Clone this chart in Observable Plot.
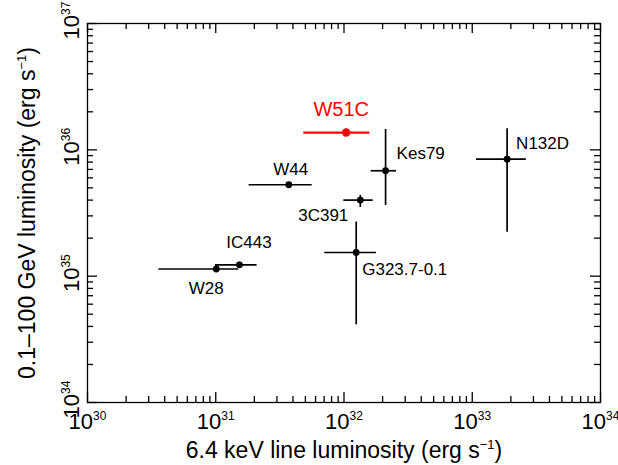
<!DOCTYPE html>
<html>
<head>
<meta charset="utf-8">
<script src="https://cdn.jsdelivr.net/npm/d3@7"></script>
<script src="https://cdn.jsdelivr.net/npm/@observablehq/plot@0.6"></script>
<style>
  html, body { margin: 0; padding: 0; background: white; }
  svg { display: block; }
</style>
</head>
<body>
<div id="chart"></div>
<script>
// ---- data ----
const names = ["W51C", "W44", "Kes79", "3C391", "G323.7-0.1", "IC443", "W28", "N132D"];
const xVal = [1.04e32, 3.71e31, 2.11e32, 1.34e32, 1.245e32, 1.53e31, 1.01e31, 1.87e33];
const xLo  = [4.86e31, 1.82e31, 1.63e32, 9.96e31, 7.08e31, 9.96e30, 3.6e30, 1.08e33];
const xHi  = [1.59e32, 5.65e31, 2.57e32, 1.69e32, 1.79e32, 2.1e31, 1.51e31, 2.64e33];
const yVal = [1.37e36, 5.29e35, 6.83e35, 4.0e35, 1.54e35, 1.23e35, 1.14e35, 8.44e35];
const yLo  = [null, null, 3.63e35, 3.50e35, 4.12e34, 1.166e35, 1.077e35, 2.23e35];
const yHi  = [null, null, 1.45e36, 4.36e35, 2.68e35, 1.29e35, 1.215e35, 1.47e36];

const xTicks = [1e30, 1e31, 1e32, 1e33, 1e34];
const yTicks = [1e34, 1e35, 1e36, 1e37];
const xTickLabels = ["10^30", "10^31", "10^32", "10^33", "10^34"];
const yTickLabels = ["10^34", "10^35", "10^36", "10^37"];
const xTitle = "6.4 keV line luminosity (erg s^\u22121^)";
const yTitle = "0.1\u2013100 GeV luminosity (erg s^\u22121^)";
const highlight = "W51C";

// ---- styles ----
const W = 618, H = 465, mL = 87, mR = 18, mT = 23, mB = 63;
const innerW = W - mL - mR, innerH = H - mT - mB;
const labelStyle = {
  "W51C":       {dx: -5,  dy: -23, anchor: "middle", size: 20},
  "W44":        {dx: 2,   dy: -15, anchor: "middle", size: 17},
  "Kes79":      {dx: 11,  dy: -17.5, anchor: "start", size: 17},
  "3C391":      {dx: -12, dy: 15,  anchor: "end", size: 17},
  "G323.7-0.1": {dx: 6,   dy: 17,  anchor: "start", size: 17},
  "IC443":      {dx: 9.5, dy: -22, anchor: "middle", size: 17},
  "W28":        {dx: -10, dy: 20,  anchor: "middle", size: 17},
  "N132D":      {dx: 9,   dy: -15.5, anchor: "start", size: 17}
};

const pts = names.map((n, i) => ({name: n, x: xVal[i], xlo: xLo[i], xhi: xHi[i], y: yVal[i], ylo: yLo[i], yhi: yHi[i]}));
const black = pts.filter(d => d.name !== highlight);
const red = pts.filter(d => d.name === highlight);

function minors(decades) {
  const out = [];
  for (let j = 0; j < decades.length - 1; j++) for (let k = 2; k <= 9; k++) out.push(k * decades[j]);
  return out;
}
const xMinor = minors(xTicks), yMinor = minors(yTicks);

const tickMarks = [
  Plot.tickX(xTicks, {x: d => d, insetTop: innerH - 10, stroke: "black", strokeWidth: 1.3}),
  Plot.tickX(xTicks, {x: d => d, insetBottom: innerH - 10, stroke: "black", strokeWidth: 1.3}),
  Plot.tickX(xMinor, {x: d => d, insetTop: innerH - 6, stroke: "black", strokeWidth: 1.3}),
  Plot.tickX(xMinor, {x: d => d, insetBottom: innerH - 6, stroke: "black", strokeWidth: 1.3}),
  Plot.tickY(yTicks, {y: d => d, insetRight: innerW - 10, stroke: "black", strokeWidth: 1.3}),
  Plot.tickY(yTicks, {y: d => d, insetLeft: innerW - 10, stroke: "black", strokeWidth: 1.3}),
  Plot.tickY(yMinor, {y: d => d, insetRight: innerW - 6, stroke: "black", strokeWidth: 1.3}),
  Plot.tickY(yMinor, {y: d => d, insetLeft: innerW - 6, stroke: "black", strokeWidth: 1.3})
];

const labelMarks = pts.map(p => {
  const s = labelStyle[p.name];
  return Plot.text([p], {x: "x", y: "y", text: "name", dx: s.dx, dy: s.dy, textAnchor: s.anchor,
    fontSize: s.size, fill: p.name === highlight ? "#ff0000" : "black", lineAnchor: "middle"});
});

const chart = Plot.plot({
  width: W, height: H,
  marginLeft: mL, marginRight: mR, marginTop: mT, marginBottom: mB,
  x: {type: "log", domain: [1e30, 1e34], axis: null},
  y: {type: "log", domain: [1e34, 1e37], axis: null},
  style: {fontFamily: "'Liberation Sans', Arial, Helvetica, sans-serif", fontSize: "17px", background: "white", overflow: "visible"},
  marks: [
    ...tickMarks,
    Plot.frame({stroke: "black", strokeWidth: 1.3}),
    // error bars
    Plot.ruleY(black, {y: "y", x1: "xlo", x2: "xhi", stroke: "black", strokeWidth: 1.7}),
    Plot.ruleX(black.filter(d => d.ylo != null), {x: "x", y1: "ylo", y2: "yhi", stroke: "black", strokeWidth: 1.7}),
    Plot.dot(black, {x: "x", y: "y", r: 3.4, fill: "black", stroke: "none"}),
    Plot.ruleY(red, {y: "y", x1: "xlo", x2: "xhi", stroke: "#ff0000", strokeWidth: 2.2}),
    Plot.dot(red, {x: "x", y: "y", r: 4.2, fill: "#ff0000", stroke: "none"}),
    ...labelMarks,
    // tick labels
    Plot.text(xTicks, {x: d => d, text: (d, i) => xTickLabels[i], frameAnchor: "bottom", dy: 26, lineAnchor: "bottom", textAnchor: "middle", fontSize: 22, fill: "black"}),
    Plot.text(yTicks, {y: d => d, text: (d, i) => yTickLabels[i], frameAnchor: "left", dx: -9, dy: -3, rotate: -90, lineAnchor: "bottom", textAnchor: "middle", fontSize: 22, fill: "black"}),
    // axis titles
    Plot.text([xTitle], {text: d => d, frameAnchor: "bottom", dy: 55, lineAnchor: "bottom", textAnchor: "middle", fontSize: 23, fill: "black"}),
    Plot.text([yTitle], {text: d => d, frameAnchor: "left", dx: -53, rotate: -90, lineAnchor: "bottom", textAnchor: "middle", fontSize: 23, fill: "black"})
  ]
});

document.getElementById("chart").appendChild(chart);

// turn "base^sup^rest" into real superscript tspans
d3.select(chart).selectAll("text").each(function () {
  const t = this.textContent;
  if (!t.includes("^")) return;
  const [base, sup, rest] = t.split("^");
  const fs = parseFloat(getComputedStyle(this).fontSize) || 17;
  const supSize = Math.round(fs * 0.56);
  const shift = fs * 0.37;
  const sel = d3.select(this);
  sel.text(null);
  sel.append("tspan").text(base);
  sel.append("tspan").attr("font-size", supSize).attr("dy", -shift).text(sup);
  if (rest) sel.append("tspan").attr("dy", shift).text(rest);
});
</script>
</body>
</html>
